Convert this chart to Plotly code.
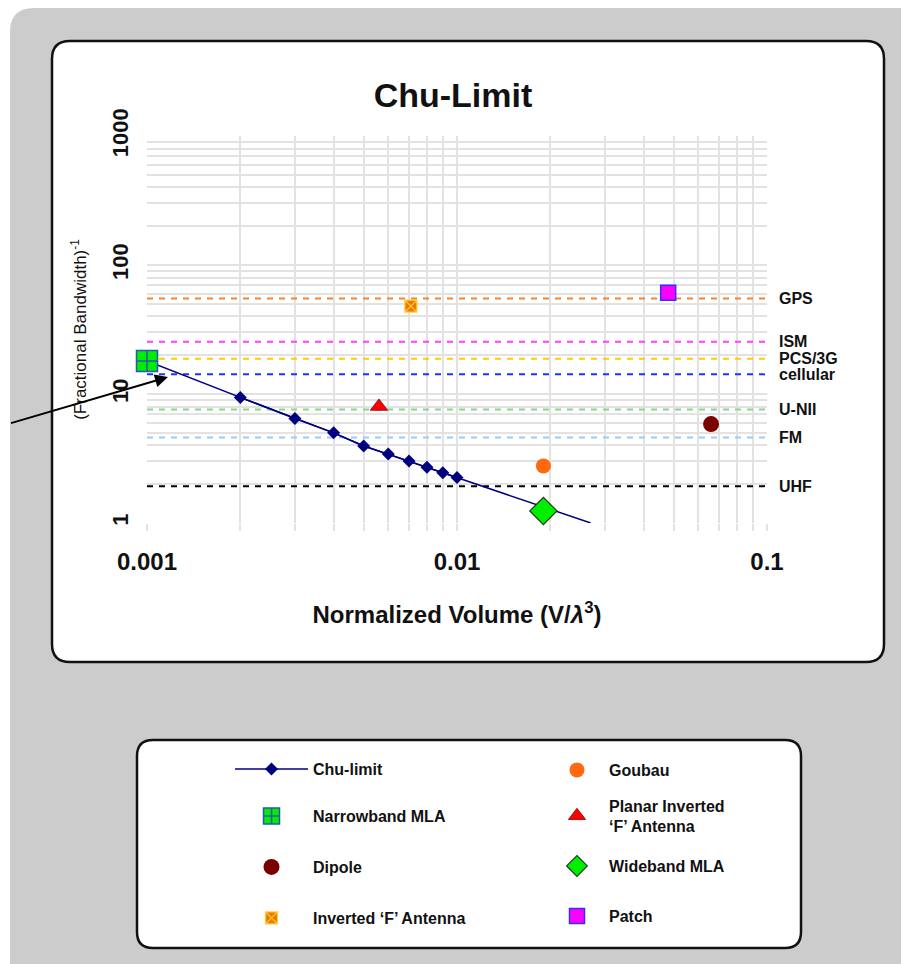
import numpy as np
import plotly.graph_objects as go

# ---------------- data ----------------
chu_x = [0.001, 0.002, 0.003, 0.004, 0.005, 0.006, 0.007, 0.008, 0.009, 0.01, 0.027]
chu_y = [18.0, 9.4, 6.45, 5.0, 3.95, 3.42, 3.03, 2.7, 2.45, 2.25, 1.0]

band_names = ["GPS", "ISM", "PCS/3G", "cellular", "U-NII", "FM", "UHF"]
band_values = [55, 25.4, 18.8, 14.2, 7.6, 4.6, 1.93]
band_colors = ["#ff7f2a", "#ff40ff", "#ffcc00", "#2233ff", "#88d888", "#99ccff", "#000000"]
band_x = [0.001, 0.1]

nb_x, nb_y = [0.001], [18.0]
dipole_x, dipole_y = [0.066], [5.85]
invf_x, invf_y = [0.0071], [48]
goubau_x, goubau_y = [0.019], [2.77]
pifa_x, pifa_y = [0.0056], [8.0]
wide_x, wide_y = [0.019], [1.24]
patch_x, patch_y = [0.048], [61]

x_tickvals = [0.001, 0.01, 0.1]
x_ticktext = ["0.001", "0.01", "0.1"]
y_tickvals = [1, 10, 100, 1000]
y_ticktext = ["1", "10", "100", "1000"]

# ---------------- geometry helpers (reference pixels -> paper) ----------------
OFF = 8  # page body margin
W, H = 909 - OFF, 964 - OFF
PL, PR, PT, PB = 147, 767, 136, 523  # plot area in reference pixels
FONT = "Arial, 'Liberation Sans', sans-serif"


def fx(p):
    return (p - PL) / (PR - PL)


def fy(p):
    return (PB - p) / (PB - PT)


def rrect(x0, y0, x1, y1, r):
    parts = [
        f"M{fx(x0 + r)},{fy(y0)}",
        f"L{fx(x1 - r)},{fy(y0)}",
        f"Q{fx(x1)},{fy(y0)} {fx(x1)},{fy(y0 + r)}",
        f"L{fx(x1)},{fy(y1 - r)}",
        f"Q{fx(x1)},{fy(y1)} {fx(x1 - r)},{fy(y1)}",
        f"L{fx(x0 + r)},{fy(y1)}",
        f"Q{fx(x0)},{fy(y1)} {fx(x0)},{fy(y1 - r)}",
        f"L{fx(x0)},{fy(y0 + r)}",
        f"Q{fx(x0)},{fy(y0)} {fx(x0 + r)},{fy(y0)}",
        "Z",
    ]
    return " ".join(parts)


fig = go.Figure()

# band lines
for name, val, col in zip(band_names, band_values, band_colors):
    fig.add_trace(go.Scatter(
        x=band_x, y=[val, val], mode="lines",
        line=dict(color=col, width=2, dash="6px,6px"),
        showlegend=False, hoverinfo="skip"))

# Chu-limit full line (no markers)
fig.add_trace(go.Scatter(
    x=chu_x, y=chu_y, mode="lines",
    line=dict(color="#000080", width=1.5),
    showlegend=False, hoverinfo="skip"))
# Chu-limit markers (interior points)
fig.add_trace(go.Scatter(
    x=chu_x[1:-1], y=chu_y[1:-1], mode="lines+markers", name="Chu-limit",
    line=dict(color="#000080", width=1.5),
    marker=dict(symbol="diamond", size=10, color="#000080"),
    legend="legend"))

fig.add_trace(go.Scatter(
    x=goubau_x, y=goubau_y, mode="markers", name="Goubau",
    marker=dict(symbol="circle", size=15, color="#ff6a10"),
    legend="legend2"))
fig.add_trace(go.Scatter(
    x=dipole_x, y=dipole_y, mode="markers", name="Dipole",
    marker=dict(symbol="circle", size=16, color="#7a0000"),
    legend="legend5", cliponaxis=False))
fig.add_trace(go.Scatter(
    x=invf_x, y=invf_y, mode="markers", name="Inverted ‘F’ Antenna",
    marker=dict(symbol="square-x", size=12, color="#f07800",
                line=dict(color="#ffd030", width=1.2)),
    legend="legend7"))
fig.add_trace(go.Scatter(
    x=pifa_x, y=pifa_y, mode="markers", name="Planar Inverted<br>‘F’ Antenna",
    marker=dict(symbol="triangle-up", size=15, color="#ff0000",
                line=dict(color="#800000", width=0.8)),
    legend="legend4"))
fig.add_trace(go.Scatter(
    x=wide_x, y=wide_y, mode="markers", name="Wideband MLA",
    marker=dict(symbol="diamond", size=21, color="#00ee00",
                line=dict(color="#1a3a1a", width=1.2)),
    legend="legend6", cliponaxis=False))
fig.add_trace(go.Scatter(
    x=patch_x, y=patch_y, mode="markers", name="Patch",
    marker=dict(symbol="square", size=15, color="#ff00ff",
                line=dict(color="#3030ff", width=1.5)),
    legend="legend8", cliponaxis=False))
fig.add_trace(go.Scatter(
    x=nb_x, y=nb_y, mode="markers", name="Narrowband MLA",
    marker=dict(symbol="square-cross", size=21, color="#00ee00",
                line=dict(color="#2a55b0", width=1.5)),
    legend="legend3", cliponaxis=False))

# ---------------- shapes (backgrounds) ----------------
shapes = [
    dict(type="path", xref="paper", yref="paper", layer="below",
         path=rrect(10, 8, 960, 1010, 24), fillcolor="#cccccc",
         line=dict(width=0)),
    dict(type="path", xref="paper", yref="paper", layer="below",
         path=rrect(52, 41, 884, 662, 18), fillcolor="#ffffff",
         line=dict(color="#111111", width=2.5)),
    dict(type="path", xref="paper", yref="paper", layer="below",
         path=rrect(137, 740, 801, 948, 16), fillcolor="#ffffff",
         line=dict(color="#111111", width=2.5)),
]

# ---------------- annotations ----------------
annotations = []
for name, val in zip(band_names, band_values):
    annotations.append(dict(
        xref="paper", yref="y", x=fx(777), y=float(np.log10(val)),
        text=name, showarrow=False, xanchor="left", yanchor="middle",
        font=dict(family=FONT, size=16, color="#111111", weight="bold")))

annotations.append(dict(
    xref="paper", yref="paper", x=fx(168), y=fy(377), text=" ",
    showarrow=True, arrowhead=2, arrowsize=1.3, arrowwidth=2,
    arrowcolor="#000000", ax=-168, ay=47))

# ---------------- legends ----------------
leg_common = dict(bgcolor="rgba(0,0,0,0)", borderwidth=0,
                  xanchor="left", yanchor="middle",
                  font=dict(family=FONT, size=16, color="#111111", weight="bold"),
                  tracegroupgap=0)
left_x, right_x = 230, 545
legends = {
    "legend": (left_x, 769, 73),
    "legend3": (left_x, 816, 73),
    "legend5": (left_x, 867, 73),
    "legend7": (left_x, 918, 73),
    "legend2": (right_x, 770, 54),
    "legend4": (right_x, 816, 54),
    "legend6": (right_x, 866, 54),
    "legend8": (right_x, 916, 54),
}
leg_layout = {}
for key, (lx, ly, iw) in legends.items():
    d = dict(leg_common)
    d.update(x=fx(lx), y=fy(ly), itemwidth=iw)
    leg_layout[key] = d

axis_common = dict(
    type="log", showline=False, zeroline=False,
    gridcolor="#e2e2e2", gridwidth=2,
    ticks="outside", ticklen=7, tickcolor="#e2e2e2", tickwidth=2,
    minor=dict(showgrid=True, gridcolor="#e2e2e2", gridwidth=2, dtick="D1",
               ticks="outside", ticklen=7, tickcolor="#e2e2e2", tickwidth=2),
    automargin=False,
)

fig.update_layout(
    width=W, height=H,
    margin=dict(l=PL - OFF, r=W - (PR - OFF), t=PT - OFF, b=H - (PB - OFF), pad=0),
    paper_bgcolor="#ffffff", plot_bgcolor="rgba(0,0,0,0)",
    font=dict(family=FONT, color="#111111"),
    title=dict(text="Chu-Limit", x=(453 - OFF) / W, xanchor="center",
               y=1 - (95 - OFF) / H, yanchor="middle", xref="container", yref="container",
               font=dict(family=FONT, size=34, color="#111111", weight="bold")),
    xaxis=dict(axis_common, range=[-3, -1], tickvals=x_tickvals, ticktext=x_ticktext,
               tickfont=dict(family=FONT, size=24, weight="bold", color="#111111"),
               ticklabelstandoff=10,
               title=dict(text="Normalized Volume (V/<i>λ</i><sup>3</sup>)", standoff=32,
                          font=dict(family=FONT, size=24, weight="bold", color="#111111"))),
    yaxis=dict(axis_common, range=[0, 3], tickvals=y_tickvals, ticktext=y_ticktext,
               tickangle=-90, ticks="", minor=dict(axis_common["minor"], ticks=""),
               tickfont=dict(family=FONT, size=22, weight="bold", color="#111111"),
               ticklabelstandoff=14,
               title=dict(text="(Fractional Bandwidth)<sup>-1</sup>", standoff=16,
                          font=dict(family=FONT, size=17, color="#111111"))),
    shapes=shapes,
    annotations=annotations,
    **leg_layout,
)

fig.write_html("out.html")
